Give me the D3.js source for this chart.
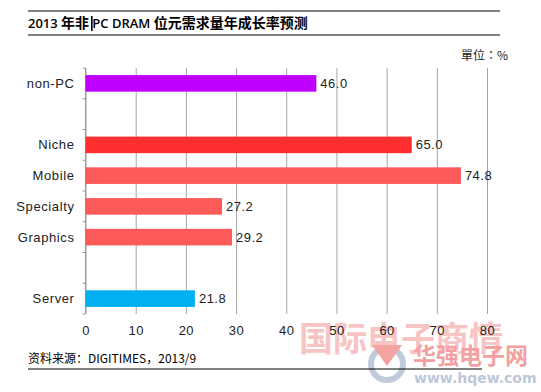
<!DOCTYPE html>
<html>
<head>
<meta charset="utf-8">
<script src="https://cdn.jsdelivr.net/npm/d3@7"></script>
<style>
  body { margin: 0; background: #fff; }
  svg { display: block; }
</style>
</head>
<body>
<div id="chart"></div>
<script>
// chart data
var slots = ["non-PC", "gap1", "Niche", "Mobile", "Specialty", "Graphics", "gap2", "Server"];
var categories = ["non-PC", "Niche", "Mobile", "Specialty", "Graphics", "Server"];
var values = [46.0, 65.0, 74.8, 27.2, 29.2, 21.8];
var barColors = ["#c000ff", "#ff2f2f", "#ff5a5a", "#ff5a5a", "#ff5a5a", "#00b0f0"];
var xTicks = [0, 10, 20, 30, 40, 50, 60, 70, 80];

var width = 541, height = 392;
var plot = { left: 85.5, right: 487, top: 68, bottom: 314 };

var svg = d3.select("#chart").append("svg")
  .attr("width", width)
  .attr("height", height);

var data = categories.map(function (c, i) {
  return { name: c, value: values[i], color: barColors[i] };
});

// scales
var x = d3.scaleLinear().domain([0, 80]).range([plot.left, plot.right]);
var y = d3.scaleBand().domain(slots).range([plot.top, plot.bottom])
  .paddingInner(0.46).paddingOuter(0.23);

// watermark (behind everything)
var wm = svg.append("g");
wm.append("text")
  .attr("x", 299).attr("y", 351)
  .style("font-family", "'Noto Sans CJK SC'")
  .style("font-size", "34px")
  .style("font-weight", "bold")
  .style("fill", "#f7c4c4")
  .text("国际电子商情");
wm.append("circle")
  .attr("cx", 387).attr("cy", 364).attr("r", 16)
  .style("fill", "none").style("stroke", "#bfcadb").style("stroke-width", 6);
wm.append("path")
  .attr("d", "M372,345 L402,345 L387,366 Z")
  .style("fill", "#f4a3a3");
wm.append("text")
  .attr("x", 413).attr("y", 364)
  .style("font-family", "'Noto Sans CJK SC'")
  .style("font-size", "23px")
  .style("font-weight", "bold")
  .style("fill", "#f3a0a0")
  .text("华强电子网");
wm.append("text")
  .attr("x", 414).attr("y", 383)
  .style("font-family", "'DejaVu Sans'")
  .style("font-size", "14px")
  .style("font-weight", "bold")
  .style("fill", "#bcc8da")
  .text("www.hqew.com");

// gridlines + x tick labels
var xAxis = svg.append("g")
  .attr("transform", "translate(0," + plot.bottom + ")")
  .call(d3.axisBottom(x).tickValues(xTicks).tickSize(-(plot.bottom - plot.top)).tickPadding(12));
xAxis.select(".domain").remove();
xAxis.selectAll(".tick line").style("stroke", "#a6a6a6");
xAxis.selectAll(".tick text")
  .style("font-family", "'Liberation Sans', Arial, sans-serif")
  .style("font-size", "13px")
  .style("letter-spacing", "0.5px")
  .style("fill", "#222");

// y axis line with ticks at slot boundaries
var yAxis = svg.append("g");
yAxis.append("line")
  .attr("x1", plot.left).attr("x2", plot.left)
  .attr("y1", plot.top).attr("y2", plot.bottom)
  .style("stroke", "#999");
d3.range(slots.length + 1).forEach(function (i) {
  var yy = plot.top + i * y.step();
  yAxis.append("line")
    .attr("x1", plot.left - 3).attr("x2", plot.left)
    .attr("y1", yy).attr("y2", yy)
    .style("stroke", "#999");
});

// category labels
svg.append("g").selectAll("text")
  .data(data).enter().append("text")
  .attr("x", plot.left - 11)
  .attr("y", function (d) { return y(d.name) + y.bandwidth() / 2; })
  .attr("dy", "0.35em")
  .attr("text-anchor", "end")
  .style("font-family", "'Liberation Sans', Arial, sans-serif")
  .style("font-size", "13px")
  .style("letter-spacing", "0.6px")
  .style("fill", "#222")
  .text(function (d) { return d.name; });

// bars
svg.append("g").selectAll("rect")
  .data(data).enter().append("rect")
  .attr("x", x(0))
  .attr("y", function (d) { return y(d.name); })
  .attr("width", function (d) { return x(d.value) - x(0); })
  .attr("height", y.bandwidth())
  .style("fill", function (d) { return d.color; });

// value labels
svg.append("g").selectAll("text")
  .data(data).enter().append("text")
  .attr("x", function (d) { return x(d.value) + 4; })
  .attr("y", function (d) { return y(d.name) + y.bandwidth() / 2; })
  .attr("dy", "0.35em")
  .style("font-family", "'Liberation Sans', Arial, sans-serif")
  .style("font-size", "13px")
  .style("letter-spacing", "0.5px")
  .style("fill", "#222")
  .text(function (d) { return d.value.toFixed(1); });

// title block
svg.append("line").attr("x1", 28).attr("x2", 500).attr("y1", 11).attr("y2", 11)
  .style("stroke", "#000").style("stroke-width", 1.2);
svg.append("line").attr("x1", 28).attr("x2", 500).attr("y1", 35).attr("y2", 35)
  .style("stroke", "#000").style("stroke-width", 1.2);
var title = svg.append("text")
  .attr("x", 28).attr("y", 28)
  .style("font-family", "'Noto Sans CJK SC', sans-serif")
  .style("font-size", "14px")
  .style("font-weight", "bold")
  .style("fill", "#000");
title.append("tspan").style("font-family", "'Open Sans', sans-serif").style("font-weight", "600").style("font-size", "13px").text("2013 ");
title.append("tspan").text("年非 ");
title.append("tspan").style("font-family", "'Open Sans', sans-serif").style("font-weight", "600").style("font-size", "13px").text("PC DRAM ");
title.append("tspan").text("位元需求量年成长率预测");
// text cursor mark seen in the source image
svg.append("rect").attr("x", 91).attr("y", 16).attr("width", 1.6).attr("height", 15).style("fill", "#000");

svg.append("text")
  .attr("x", 508).attr("y", 60)
  .attr("text-anchor", "end")
  .style("font-family", "'Noto Sans CJK TC', sans-serif")
  .style("font-size", "12px")
  .style("fill", "#222")
  .text("單位：%");

// source
svg.append("text")
  .attr("x", 28).attr("y", 363)
  .style("font-family", "'Noto Sans CJK SC', sans-serif")
  .style("font-size", "12px")
  .style("fill", "#000")
  .text("资料来源：DIGITIMES，2013/9");
svg.append("line").attr("x1", 28).attr("x2", 482).attr("y1", 369).attr("y2", 369)
  .style("stroke", "#000").style("stroke-width", 1);
</script>
</body>
</html>
